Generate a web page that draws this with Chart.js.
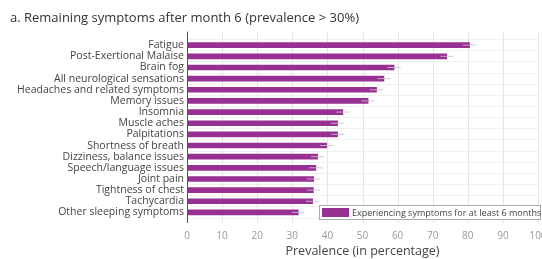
<!DOCTYPE html>
<html><head><meta charset="utf-8">
<script src="https://cdn.jsdelivr.net/npm/chart.js@4/dist/chart.umd.min.js"></script>
<style>html,body{margin:0;padding:0;background:#fff}canvas{display:block}</style>
</head><body>
<canvas id="c" width="542" height="259"></canvas>
<script>
const titleText = 'a. Remaining symptoms after month 6 (prevalence > 30%)';
const categories = ['Fatigue','Post-Exertional Malaise','Brain fog','All neurological sensations','Headaches and related symptoms','Memory issues','Insomnia','Muscle aches','Palpitations','Shortness of breath','Dizziness, balance issues','Speech/language issues','Joint pain','Tightness of chest','Tachycardia','Other sleeping symptoms'];
const prevalence = [80.5, 74.0, 59.0, 56.1, 54.0, 51.6, 44.4, 42.9, 42.9, 39.8, 37.2, 36.7, 36.1, 36.0, 35.8, 31.7];
const errors = [1.9, 1.8, 1.9, 1.9, 1.9, 1.9, 2.0, 1.9, 1.9, 2.0, 1.9, 2.0, 1.9, 1.9, 1.9, 1.8];
const seriesLabel = 'Experiencing symptoms for at least 6 months';
const xTicks = [0,10,20,30,40,50,60,70,80,90,100];
const xTitle = 'Prevalence (in percentage)';

const FONT = "'Open Sans', 'Noto Sans', sans-serif";
const BAR = '#982f93';

const frame = {
  id: 'frame',
  beforeDatasetsDraw(chart) {
    const ctx = chart.ctx, a = chart.chartArea, xs = chart.scales.x;
    const top = a.top - 8, bottom = a.bottom + 5;
    ctx.save();
    ctx.lineWidth = 1;
    ctx.strokeStyle = '#e6e6e6';
    xTicks.forEach(v => {
      if (v === 0) return;
      const x = Math.round(xs.getPixelForValue(v)) + 0.5;
      ctx.beginPath(); ctx.moveTo(x, top); ctx.lineTo(x, bottom); ctx.stroke();
    });
    ctx.strokeStyle = '#555';
    const x0 = Math.round(xs.getPixelForValue(0)) + 0.5;
    ctx.beginPath(); ctx.moveTo(x0, top); ctx.lineTo(x0, bottom); ctx.stroke();
    ctx.restore();
  }
};

const errorBars = {
  id: 'errorBars',
  afterDatasetsDraw(chart) {
    const ctx = chart.ctx, xs = chart.scales.x;
    const meta = chart.getDatasetMeta(0);
    ctx.save();
    meta.data.forEach((el, i) => {
      const v = prevalence[i], e = errors[i];
      const x1 = xs.getPixelForValue(v - e), x2 = xs.getPixelForValue(v + e);
      ctx.strokeStyle = 'rgba(195,195,195,0.85)';
      ctx.lineWidth = 1;
      ctx.beginPath();
      ctx.moveTo(x1, el.y); ctx.lineTo(x2, el.y);
      ctx.stroke();
    });
    ctx.restore();
  }
};

const boxLegend = {
  id: 'boxLegend',
  afterDraw(chart) {
    const ctx = chart.ctx, a = chart.chartArea;
    const x0 = 319, x1 = 541, y0 = 205, y1 = 220;
    ctx.save();
    ctx.fillStyle = '#fff';
    ctx.fillRect(x0, y0, x1 - x0, y1 - y0);
    ctx.strokeStyle = '#aaa'; ctx.lineWidth = 1;
    ctx.strokeRect(x0 + 0.5, y0 + 0.5, x1 - x0 - 1, y1 - y0 - 1);
    ctx.fillStyle = BAR;
    ctx.fillRect(x0 + 3, y0 + 3, 27, y1 - y0 - 6);
    ctx.fillStyle = '#444';
    ctx.font = '9px ' + FONT;
    ctx.textBaseline = 'middle';
    ctx.fillText(chart.data.datasets[0].label, x0 + 33, (y0 + y1) / 2 + 0.5);
    ctx.restore();
  }
};

new Chart(document.getElementById('c'), {
  type: 'bar',
  data: {
    labels: categories,
    datasets: [{ label: seriesLabel, data: prevalence, backgroundColor: BAR, barThickness: 5 }]
  },
  options: {
    indexAxis: 'y',
    responsive: false,
    animation: false,
    layout: { padding: { left: 10, right: 4, top: 0, bottom: 0 } },
    plugins: {
      legend: { display: false },
      tooltip: { enabled: false },
      title: {
        display: true, text: titleText, align: 'start',
        color: '#333', font: { family: FONT, size: 13, weight: 'normal' },
        padding: { top: 10, bottom: 14 }
      }
    },
    scales: {
      x: {
        type: 'linear', min: 0, max: 100,
        afterBuildTicks(s) { s.ticks = xTicks.map(v => ({ value: v })); },
        afterFit(s) { s.height = 41; s.paddingRight = 0; s.paddingLeft = 0; },
        ticks: { color: '#999', font: { family: FONT, size: 10 }, padding: 12 },
        grid: { display: false, drawTicks: false },
        border: { display: false },
        title: { display: true, text: xTitle, color: '#444', font: { family: FONT, size: 12.5 }, padding: { top: 0, bottom: 0 } }
      },
      y: {
        afterFit(s) { s.width = 177; },
        ticks: { color: '#444', font: { family: FONT, size: 10.5 }, padding: 3, autoSkip: false },
        grid: { color: '#f0f0f0', offset: true, drawTicks: false },
        border: { display: false }
      }
    }
  },
  plugins: [frame, errorBars, boxLegend]
});
</script>
</body></html>
